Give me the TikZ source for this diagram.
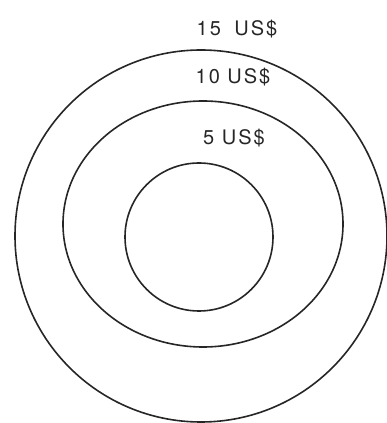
\documentclass[tikz,border=0pt]{standalone}
\usepackage{fontspec}
\setmainfont{TeX Gyre Heros}
\usetikzlibrary{positioning}

\begin{document}
\begin{tikzpicture}[
    x=1pt, y=1pt,
    ring/.style = {draw=black!85, line width=1.6pt},
    price/.style = {
        inner sep=0pt, text=black!85,
        font=\fontsize{20}{22}\selectfont\addfontfeature{LetterSpace=10}
    }
]
\useasboundingbox (0,0) rectangle (387,423);

% Circulos
\draw[ring] (201,187) circle[radius=186];
\draw[ring] (203,199) ellipse[x radius=140, y radius=123];
\draw[ring] (199,186) circle[radius=74];

% Precios
\node[price] (p15) at (237,394) {15\hspace{6pt} US\$};
\node[price] (p10) at (233,346) {10 US\$};
\node[price] (p5)  at (234,285) {5 US\$};

\end{tikzpicture}
\end{document}
